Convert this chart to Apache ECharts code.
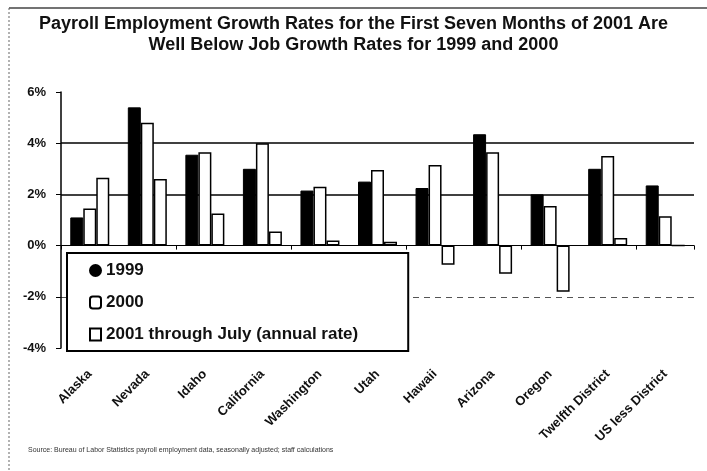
<!DOCTYPE html>
<html>
<head>
<meta charset="utf-8">
<script src="https://cdn.jsdelivr.net/npm/echarts@6/dist/echarts.min.js"></script>
<style>
  html, body { margin: 0; padding: 0; background: #fff; }
  #chart { width: 707px; height: 471px; }
</style>
</head>
<body>
<div id="chart"></div>
<script>
// payroll growth by state, percent
const states = ['Alaska', 'Nevada', 'Idaho', 'California', 'Washington', 'Utah',
  'Hawaii', 'Arizona', 'Oregon', 'Twelfth District', 'US less District'];
const growth1999 = [1.1, 5.4, 3.55, 3.0, 2.15, 2.5, 2.25, 4.35, 2.0, 3.0, 2.35];
const growth2000 = [1.45, 4.8, 3.65, 4.0, 2.3, 2.95, 3.15, 3.65, 1.55, 3.5, 1.15];
const growth2001 = [2.65, 2.6, 1.25, 0.55, 0.2, 0.15, -0.75, -1.1, -1.8, 0.3, 0];
const yTicks = [-4, -2, 0, 2, 4, 6];

const chart = echarts.init(document.getElementById('chart'));

const font = 'Arial, "Liberation Sans", sans-serif';

chart.setOption({
  animation: false,
  backgroundColor: '#fff',
  textStyle: { fontFamily: font },
  title: {
    text: 'Payroll Employment Growth Rates for the First Seven Months of 2001 Are\nWell Below Job Growth Rates for 1999 and 2000',
    left: 'center',
    top: 9,
    textStyle: { fontSize: 18, fontWeight: 'bold', color: '#111', lineHeight: 21 }
  },
  grid: { left: 61, top: 92, width: 633, height: 256 },
  legend: {
    orient: 'vertical',
    left: 67,
    top: 253,
    padding: [9, 50, 8, 22],
    itemGap: 15,
    itemWidth: 11,
    itemHeight: 12,
    backgroundColor: '#fff',
    borderColor: '#000',
    borderWidth: 2,
    textStyle: { fontSize: 17, fontWeight: 'bold', color: '#111' },
    data: [
      { name: '1999', icon: 'circle' },
      { name: '2000', icon: 'roundRect' },
      { name: '2001 through July (annual rate)', icon: 'rect' }
    ]
  },
  xAxis: [
    {
      type: 'category',
      data: states,
      axisLine: { show: false, onZero: false },
      axisTick: { show: false },
      axisLabel: {
        rotate: 45,
        margin: 24,
        interval: 0,
        fontSize: 13,
        fontWeight: 'bold',
        color: '#111'
      }
    },
    {
      type: 'category',
      data: states,
      position: 'bottom',
      axisLine: { onZero: true, onZeroAxisIndex: 0, lineStyle: { color: '#000', width: 1.2 } },
      axisTick: { show: true, length: 4, lineStyle: { color: '#000' } },
      axisLabel: { show: false }
    }
  ],
  yAxis: [
    {
      type: 'value',
      min: -4,
      max: 6,
      interval: 2,
      axisLine: { show: true, lineStyle: { color: '#000', width: 1.5 } },
      axisTick: { show: true, length: 5, lineStyle: { color: '#000' } },
      axisLabel: {
        margin: 15,
        fontSize: 13,
        fontWeight: 'bold',
        color: '#111',
        formatter: v => v + '%'
      },
      splitLine: {
        show: true,
        lineStyle: {
          width: 1.5,
          color: yTicks.map(v => (v === 2 || v === 4) ? '#000' : 'rgba(0,0,0,0)')
        }
      }
    },
    {
      type: 'value',
      min: -4,
      max: 6,
      interval: 2,
      axisLine: { show: false },
      axisTick: { show: false },
      axisLabel: { show: false },
      splitLine: {
        show: true,
        lineStyle: {
          width: 1,
          type: [6, 5],
          color: yTicks.map(v => v === -2 ? '#555' : 'rgba(0,0,0,0)')
        }
      }
    }
  ],
  series: [
    {
      name: '1999',
      type: 'bar',
      data: growth1999,
      barWidth: 13,
      barGap: '0%',
      itemStyle: { color: '#000', borderColor: '#000', borderWidth: 1 }
    },
    {
      name: '2000',
      type: 'bar',
      data: growth2000,
      barWidth: 13,
      itemStyle: { color: '#fff', borderColor: '#000', borderWidth: 1.5 }
    },
    {
      name: '2001 through July (annual rate)',
      type: 'bar',
      data: growth2001,
      barWidth: 13,
      itemStyle: { color: '#fff', borderColor: '#000', borderWidth: 1.5 }
    }
  ],
  graphic: [
    {
      type: 'line',
      shape: { x1: 9, y1: 8, x2: 707, y2: 8 },
      style: { stroke: '#444', lineWidth: 1.5 }
    },
    {
      type: 'line',
      shape: { x1: 9, y1: 8, x2: 9, y2: 471 },
      style: { stroke: '#666', lineWidth: 1, lineDash: [2, 2] }
    },
    {
      type: 'text',
      left: 28,
      top: 447,
      style: {
        text: 'Source: Bureau of Labor Statistics payroll employment data, seasonally adjusted; staff calculations',
        fill: '#333',
        font: '7px ' + font
      }
    }
  ]
});
</script>
</body>
</html>
